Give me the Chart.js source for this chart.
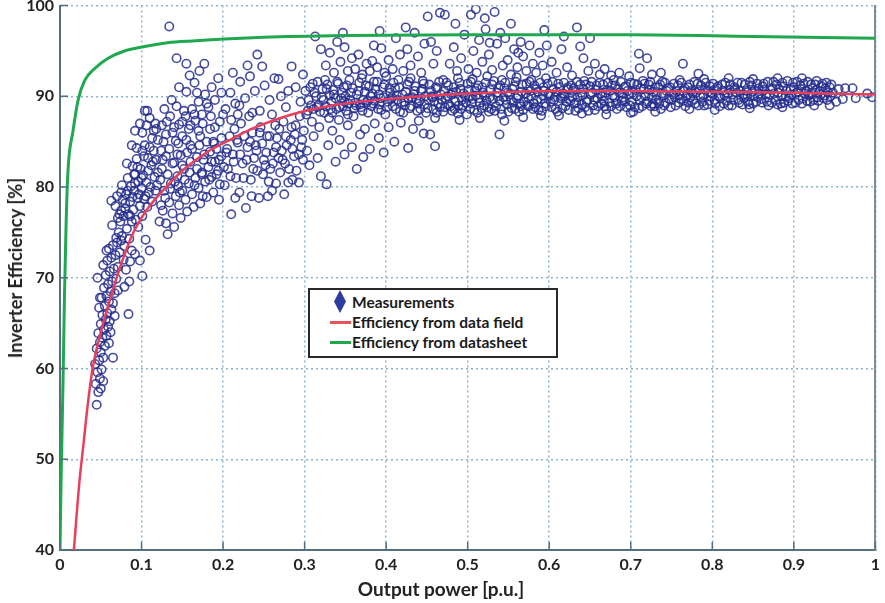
<!DOCTYPE html>
<html>
<head>
<meta charset="utf-8">
<script src="https://cdn.jsdelivr.net/npm/chart.js@4.4.1/dist/chart.umd.min.js"></script>
<style>
  body { margin: 0; background: #fff; }
  #wrap { position: relative; width: 885px; height: 603px; overflow: hidden; }
  #chart { position: absolute; left: 0; top: -10px; }
  #legend {
    position: absolute; left: 308px; top: 288px; width: 246px; height: 66px;
    border: 2px solid #2a2a2a; background: #fff;
    font: bold 15.5px Lato, "Liberation Sans", sans-serif; color: #1a1a1a;
  }
  .item { position: absolute; left: 20px; height: 20px; line-height: 20px; white-space: nowrap; }
  .item span { position: absolute; left: 22px; }
  .dia { position: absolute; left: 4px; top: -2px; width: 12px; height: 23px; background: #2d3a9e;
         clip-path: polygon(50% 0, 100% 50%, 50% 100%, 0 50%); }
  .ln { position: absolute; left: 0; top: 9px; width: 21px; height: 3px; }
  .axis-title { position: absolute; font: bold 19px Lato, "Liberation Sans", sans-serif; color: #222; white-space: nowrap; }
  #xtitle { left: 441px; top: 588px; transform: translate(-50%, -50%); }
  #ytitle { left: 15px; top: 268px; font-size: 18.5px; transform: translate(-50%, -50%) rotate(-90deg); }
</style>
</head>
<body>
<div id="wrap">
  <canvas id="chart" width="885" height="613"></canvas>
  <div id="xtitle" class="axis-title">Output power [p.u.]</div>
  <div id="ytitle" class="axis-title">Inverter Efficiency [%]</div>
  <div id="legend">
    <div class="item" style="top:2px"><div class="dia"></div><span>Measurements</span></div>
    <div class="item" style="top:22px"><div class="ln" style="background:#e8505a"></div><span>Efficiency from data field</span></div>
    <div class="item" style="top:42px"><div class="ln" style="background:#1fa84f"></div><span>Efficiency from datasheet</span></div>
  </div>
</div>
<script>
const xTicks = [0, 0.1, 0.2, 0.3, 0.4, 0.5, 0.6, 0.7, 0.8, 0.9, 1];
const xTickLabels = ['0', '0.1', '0.2', '0.3', '0.4', '0.5', '0.6', '0.7', '0.8', '0.9', '1'];
const yTicks = [40, 50, 60, 70, 80, 90, 100];
const yTickLabels = ['40', '50', '60', '70', '80', '90', '100'];

// datasheet curve (green)
const sheetX = [0, 0.0012, 0.0025, 0.0037, 0.0055, 0.0075, 0.0098, 0.016, 0.022, 0.03, 0.043, 0.059, 0.079, 0.099, 0.132, 0.162, 0.25, 0.35, 0.5, 0.7, 0.85, 1];
const sheetY = [40, 47, 53, 58.5, 68, 76, 81.8, 86.2, 89.5, 91.7, 93.1, 94.2, 95, 95.4, 95.9, 96.1, 96.5, 96.7, 96.8, 96.8, 96.6, 96.4];

// fitted curve from field data (red)
const fieldX = [0.017, 0.024, 0.028, 0.034, 0.04, 0.05, 0.061, 0.075, 0.089, 0.105, 0.122, 0.15, 0.183, 0.204, 0.24, 0.284, 0.341, 0.415, 0.5, 0.6, 0.7, 0.8, 0.9, 1];
const fieldY = [40, 47.7, 51, 56, 60, 64, 67.5, 71.5, 74.8, 77.3, 79.2, 81.8, 84, 85, 86.6, 88, 89.1, 89.8, 90.3, 90.6, 90.6, 90.5, 90.4, 90.2];

// measured points [p.u., %]
const measA = [
  [0.045,56.0],[0.047,57.4],[0.044,58.3],[0.049,58.9],[0.046,59.6],[0.051,59.9],[0.043,60.5],[0.048,60.9],[0.053,61.2],[0.050,61.8],
  [0.045,62.2],[0.055,62.5],[0.049,62.9],[0.052,63.4],[0.057,63.6],[0.047,63.9],[0.054,64.3],[0.059,64.6],[0.050,64.9],[0.056,65.4],
  [0.061,65.2],[0.052,65.9],[0.058,66.1],[0.063,66.5],[0.048,66.7],[0.055,66.9],[0.060,67.4],[0.065,67.2],[0.051,67.8],[0.057,68.0],
  [0.062,68.5],[0.067,68.3],[0.054,68.9],[0.059,69.3],[0.064,69.6],[0.069,69.9],[0.046,70.0],[0.056,70.3],[0.061,70.7],[0.066,71.0],
  [0.071,71.2],[0.053,71.4],[0.058,71.9],[0.063,72.2],[0.068,72.5],[0.073,72.8],[0.060,73.2],[0.065,73.6],[0.070,73.9],[0.075,74.1],
  [0.084,66.0],[0.065,61.2],[0.060,62.8],[0.049,67.8],[0.057,73.0],[0.062,64.0],[0.067,65.8],[0.071,68.6],[0.050,57.8],[0.053,58.6]
];
const measB = [
  [0.072,75.0],[0.076,74.6],[0.079,73.5],[0.074,76.2],[0.078,76.8],[0.082,75.4],[0.085,74.3],[0.080,77.6],[0.084,77.0],[0.088,76.2],
  [0.063,78.5],[0.068,77.9],[0.073,77.0],[0.077,78.6],[0.081,79.2],[0.086,78.4],[0.090,77.5],[0.093,76.4],[0.087,80.1],[0.091,79.6],
  [0.095,78.8],[0.098,77.9],[0.083,81.0],[0.092,81.4],[0.096,80.6],[0.100,79.9],[0.103,78.7],[0.089,82.3],[0.094,83.1],[0.099,82.0],
  [0.102,81.3],[0.106,80.5],[0.109,79.4],[0.094,84.3],[0.091,81.4],[0.098,87.0],[0.110,87.6],[0.113,85.4],[0.104,84.6],[0.108,83.2],
  [0.112,82.4],[0.116,81.1],[0.119,80.2],[0.101,86.0],[0.106,86.8],[0.115,84.0],[0.118,83.0],[0.092,72.6],[0.086,71.8],[0.081,70.9],
  [0.078,72.0],[0.096,75.6],[0.101,76.8],[0.107,77.8],[0.113,78.4],[0.085,69.6],[0.079,69.0],[0.088,73.0],[0.117,87.0],[0.104,88.4],
  [0.101,70.2],[0.098,71.9],[0.110,73.0],[0.105,74.2]
];
const measC = [
  [0.122,76.2],[0.126,77.4],[0.130,76.0],[0.134,78.3],[0.138,77.1],[0.142,79.0],[0.146,78.0],[0.150,79.6],[0.154,78.6],[0.158,80.4],
  [0.162,79.2],[0.166,81.0],[0.170,79.9],[0.174,81.6],[0.178,80.6],[0.182,82.2],[0.186,81.1],[0.190,82.8],[0.194,81.8],[0.198,83.4],
  [0.128,79.6],[0.136,80.4],[0.144,81.2],[0.152,82.0],[0.160,82.8],[0.168,83.3],[0.176,83.0],[0.184,83.9],[0.192,84.2],[0.132,74.8],
  [0.140,75.6],[0.148,76.6],[0.156,77.3],[0.164,77.8],[0.172,78.2],[0.180,78.9],[0.188,79.4],[0.196,80.3],[0.124,78.0],[0.145,80.1],
  [0.125,82.0],[0.130,83.4],[0.127,85.0],[0.134,84.2],[0.138,86.0],[0.142,85.1],[0.131,87.2],[0.146,86.9],[0.150,85.6],[0.154,87.8],
  [0.158,86.4],[0.162,88.6],[0.166,87.3],[0.143,88.9],[0.137,89.6],[0.170,89.4],[0.174,88.0],[0.178,90.2],[0.182,88.8],[0.186,91.0],
  [0.190,89.6],[0.194,92.0],[0.198,90.4],[0.155,90.5],[0.159,92.3],[0.165,91.5],[0.171,92.8],[0.177,93.6],[0.143,94.2],[0.155,93.6],
  [0.134,97.7],[0.148,83.5],[0.160,84.6],[0.172,85.6],[0.184,86.4],[0.196,87.2],[0.188,85.0],[0.124,84.0],[0.118,86.4],[0.140,82.7]
];
const measD = [
  [0.202,80.2],[0.206,82.0],[0.210,77.0],[0.212,83.6],[0.216,81.0],[0.220,79.4],[0.224,82.6],[0.228,77.7],[0.230,84.4],[0.234,80.8],
  [0.238,83.2],[0.242,81.8],[0.244,78.8],[0.248,84.8],[0.252,82.4],[0.256,80.6],[0.260,79.6],[0.262,83.8],[0.266,85.4],[0.270,81.6],
  [0.272,84.0],[0.276,82.6],[0.280,80.5],[0.283,85.2],[0.287,83.4],[0.290,81.8],[0.293,80.5],[0.296,84.4],[0.299,86.2],[0.218,84.9],
  [0.226,85.6],[0.236,86.0],[0.246,86.6],[0.254,85.6],[0.264,86.8],[0.274,87.2],[0.284,86.6],[0.294,87.8],[0.208,85.6],[0.214,86.4],
  [0.222,87.0],[0.232,87.8],[0.240,84.6],[0.250,83.0],[0.258,82.0],[0.268,83.2],[0.278,84.6],[0.288,85.8],[0.298,83.0],[0.204,83.8],
  [0.203,88.6],[0.209,90.4],[0.215,89.2],[0.221,91.6],[0.227,89.8],[0.233,92.2],[0.239,90.6],[0.245,88.4],[0.248,93.3],[0.251,91.2],
  [0.257,89.6],[0.263,92.0],[0.268,91.9],[0.271,90.0],[0.277,88.8],[0.284,93.3],[0.289,91.0],[0.295,89.4],[0.212,92.6],[0.236,88.2],
  [0.260,88.0],[0.280,90.6],[0.298,92.4],[0.218,88.0],[0.242,94.6],[0.230,93.4]
];
const measLowDense = [
  [0.064,75.8],[0.069,74.4],[0.071,76.6],[0.075,77.4],[0.070,79.0],[0.076,80.2],[0.080,78.2],[0.083,79.6],[0.086,76.8],[0.089,78.9],
  [0.092,80.4],[0.095,82.2],[0.097,79.2],[0.100,81.0],[0.103,83.4],[0.105,79.0],[0.108,81.8],[0.111,80.0],[0.114,82.8],[0.117,79.6],
  [0.120,81.6],[0.123,80.8],[0.126,83.0],[0.129,78.8],[0.132,81.4],[0.135,79.8],[0.138,82.6],[0.141,80.6],[0.144,83.6],[0.147,79.4],
  [0.150,82.4],[0.153,80.8],[0.156,83.8],[0.159,81.6],[0.162,84.2],[0.165,80.2],[0.168,82.0],[0.171,84.6],[0.174,81.4],[0.177,83.6],
  [0.180,85.0],[0.183,80.8],[0.186,82.8],[0.189,84.8],[0.192,81.4],[0.195,83.0],[0.198,85.4],[0.201,82.2],[0.205,84.2],[0.209,81.2],
  [0.213,82.8],[0.217,85.2],[0.221,83.6],[0.225,81.0],[0.229,83.0],[0.233,85.0],[0.237,82.0],[0.241,84.0],[0.245,86.0],[0.249,81.4],
  [0.253,83.8],[0.257,85.6],[0.261,82.6],[0.265,84.4],[0.269,86.4],[0.273,83.0],[0.277,85.6],[0.281,82.0],[0.285,84.2],[0.289,86.8],
  [0.293,83.6],[0.297,85.2],[0.255,79.0],[0.265,80.4],[0.275,79.2],[0.285,80.8],[0.235,79.0],[0.215,78.8],[0.195,78.6],[0.175,79.0],
  [0.110,84.4],[0.115,86.2],[0.120,85.2],[0.125,86.8],[0.130,85.8],[0.135,87.8],[0.140,86.6],[0.145,84.8],[0.150,87.2],[0.155,85.2],
  [0.160,86.8],[0.165,88.0],[0.170,86.2],[0.175,87.0],[0.180,89.2],[0.185,87.8],[0.190,86.6],[0.200,88.0],[0.210,87.4],[0.220,89.0],
  [0.075,79.4],[0.082,82.6],[0.088,84.6],[0.101,84.0],[0.092,86.2],[0.107,88.4],[0.128,88.6],[0.146,91.0],[0.152,88.4],[0.168,90.4]
];
const measE = [
  [0.302,88.0],[0.305,89.6],[0.309,87.2],[0.312,90.4],[0.315,88.8],[0.318,86.6],[0.321,89.9],[0.324,88.2],[0.327,90.8],[0.330,87.6],
  [0.333,89.4],[0.336,90.2],[0.339,88.6],[0.342,87.4],[0.345,89.8],[0.348,91.0],[0.351,88.4],[0.354,89.2],[0.357,90.4],[0.360,87.8],
  [0.363,89.0],[0.366,90.6],[0.369,88.8],[0.372,89.6],[0.375,91.2],[0.378,88.2],[0.381,90.0],[0.384,89.2],[0.387,90.8],[0.390,88.6],
  [0.393,89.8],[0.396,91.0],[0.399,88.0],[0.402,89.4],[0.405,90.4],[0.408,88.9],[0.411,90.9],[0.414,89.6],[0.417,88.3],[0.420,90.2],
  [0.423,89.0],[0.426,91.3],[0.429,88.7],[0.432,89.9],[0.435,90.6],[0.438,88.4],[0.441,89.5],[0.444,90.8],[0.447,89.1],[0.449,88.2],
  [0.310,91.4],[0.325,91.8],[0.340,91.6],[0.355,91.8],[0.370,92.0],[0.385,91.6],[0.400,92.2],[0.415,91.8],[0.430,92.0],[0.445,91.7],
  [0.317,89.0],[0.332,88.6],[0.347,88.9],[0.362,89.3],[0.377,89.5],[0.392,89.1],[0.407,89.9],[0.422,89.4],[0.437,89.7],[0.350,90.0],
  [0.303,84.0],[0.306,82.4],[0.311,85.6],[0.316,83.2],[0.320,81.2],[0.327,80.3],[0.329,84.6],[0.334,86.2],[0.338,82.8],[0.343,85.2],
  [0.349,83.6],[0.353,86.8],[0.358,84.4],[0.364,82.0],[0.368,85.8],[0.374,86.4],[0.380,84.2],[0.386,87.0],[0.391,85.4],[0.397,83.8],
  [0.403,86.6],[0.410,85.0],[0.418,87.1],[0.427,84.3],[0.433,86.4],[0.440,87.3],[0.446,85.9],[0.454,85.8],[0.460,84.5],[0.372,83.3],
  [0.313,96.6],[0.320,95.2],[0.326,93.4],[0.331,94.8],[0.336,92.6],[0.340,96.0],[0.344,93.8],[0.349,95.4],[0.353,92.8],[0.358,94.2],
  [0.362,93.0],[0.366,94.6],[0.371,92.4],[0.376,93.6],[0.380,92.8],[0.385,95.6],[0.389,93.2],[0.394,95.3],[0.398,92.6],[0.403,94.0],
  [0.408,93.0],[0.412,96.4],[0.417,94.6],[0.421,92.8],[0.426,95.2],[0.430,93.4],[0.435,97.0],[0.439,94.4],[0.443,92.6],[0.447,95.8],
  [0.451,98.8],[0.455,96.0],[0.458,93.6],[0.462,95.0],[0.466,99.2],[0.472,99.0],[0.347,97.0],[0.392,97.2],[0.424,97.6],[0.383,93.9]
];
const measF = [
  [0.452,89.6],[0.455,90.6],[0.458,88.6],[0.461,91.0],[0.464,89.2],[0.467,90.2],[0.470,88.3],[0.473,89.8],[0.476,91.2],[0.479,88.9],
  [0.482,90.4],[0.485,89.4],[0.488,88.1],[0.491,90.8],[0.494,89.0],[0.497,90.0],[0.500,91.4],[0.503,88.6],[0.506,89.7],[0.509,90.6],
  [0.512,88.2],[0.515,89.3],[0.518,91.0],[0.521,90.1],[0.524,88.8],[0.527,89.9],[0.530,91.3],[0.533,88.4],[0.536,90.4],[0.539,89.5],
  [0.542,88.0],[0.545,90.9],[0.548,89.1],[0.551,90.2],[0.554,88.7],[0.557,91.1],[0.560,89.8],[0.563,88.3],[0.566,90.5],[0.569,89.4],
  [0.572,91.4],[0.575,88.9],[0.578,90.0],[0.581,89.2],[0.584,90.8],[0.587,88.5],[0.590,89.7],[0.593,91.0],[0.596,88.9],[0.599,90.3],
  [0.457,89.9],[0.466,88.8],[0.475,90.0],[0.484,88.6],[0.493,89.6],[0.502,89.9],[0.511,90.9],[0.520,89.0],[0.529,88.6],[0.538,90.9],
  [0.547,89.6],[0.556,89.3],[0.565,88.9],[0.574,89.9],[0.583,88.8],[0.592,90.1],[0.460,87.6],[0.490,87.4],[0.515,87.6],[0.545,87.3],
  [0.470,91.8],[0.488,92.0],[0.506,91.9],[0.524,92.2],[0.542,91.8],[0.560,92.1],[0.578,91.8],[0.596,92.0],[0.568,87.7],[0.590,87.9],
  [0.478,93.6],[0.483,95.4],[0.487,92.8],[0.492,94.2],[0.496,96.8],[0.501,93.0],[0.504,99.0],[0.507,95.0],[0.511,92.6],[0.514,96.2],
  [0.518,93.8],[0.522,97.4],[0.526,94.6],[0.530,92.9],[0.533,99.3],[0.536,95.8],[0.540,97.0],[0.543,93.4],[0.546,96.4],[0.549,94.0],
  [0.553,92.4],[0.557,95.2],[0.561,93.2],[0.565,96.0],[0.568,94.4],[0.572,92.8],[0.576,95.6],[0.580,93.6],[0.584,92.6],[0.588,94.8],
  [0.592,93.4],[0.594,97.3],[0.597,95.6],[0.521,98.6],[0.510,99.6],[0.485,98.0],[0.553,98.0],[0.527,95.9],[0.562,94.8],[0.539,85.8]
];
const measG = [
  [0.602,89.4],[0.605,90.8],[0.608,88.6],[0.611,91.4],[0.614,89.8],[0.617,90.3],[0.620,88.9],[0.623,91.0],[0.626,89.5],[0.629,90.6],
  [0.632,88.4],[0.635,89.9],[0.638,91.3],[0.641,90.1],[0.644,88.8],[0.647,89.6],[0.650,91.1],[0.653,90.4],[0.656,88.5],[0.659,89.8],
  [0.662,91.5],[0.665,90.0],[0.668,88.9],[0.671,90.7],[0.674,89.3],[0.677,91.2],[0.680,89.9],[0.683,88.6],[0.686,90.4],[0.689,89.5],
  [0.692,91.0],[0.695,88.8],[0.698,90.2],[0.701,89.4],[0.704,91.4],[0.707,90.0],[0.710,88.7],[0.713,89.9],[0.716,90.8],[0.719,89.2],
  [0.722,91.3],[0.725,88.9],[0.728,90.5],[0.731,89.6],[0.734,91.0],[0.737,88.6],[0.740,90.1],[0.743,89.3],[0.746,90.9],[0.749,88.8],
  [0.607,89.9],[0.619,90.0],[0.631,89.2],[0.643,91.7],[0.655,89.6],[0.667,89.5],[0.679,91.8],[0.691,89.9],[0.703,88.3],[0.715,91.7],
  [0.727,89.2],[0.739,91.6],[0.612,87.9],[0.640,88.1],[0.670,88.0],[0.700,88.2],[0.730,88.3],
  [0.603,93.8],[0.609,92.6],[0.615,95.2],[0.622,93.2],[0.628,92.3],[0.638,95.5],[0.642,94.2],[0.648,92.8],[0.656,93.6],[0.662,92.4],
  [0.668,93.0],[0.676,92.3],[0.686,92.6],[0.698,92.2],[0.710,94.7],[0.711,93.1],[0.720,94.2],[0.726,92.4],[0.737,92.6],[0.764,93.6],
  [0.783,92.5],[0.618,96.6],[0.634,97.6],[0.650,96.4]
];
const measH = [
  [0.752,90.2],[0.755,89.0],[0.758,91.2],[0.761,89.7],[0.764,90.6],[0.767,88.9],[0.770,91.0],[0.773,89.9],[0.776,90.3],[0.779,89.2],
  [0.782,91.4],[0.785,90.0],[0.788,89.4],[0.791,90.8],[0.794,89.1],[0.797,91.1],[0.800,90.3],[0.803,89.6],[0.806,90.9],[0.809,88.9],
  [0.812,91.3],[0.815,90.1],[0.818,89.5],[0.821,90.7],[0.824,89.0],[0.827,91.0],[0.830,90.4],[0.833,89.3],[0.836,91.5],[0.839,89.8],
  [0.842,90.6],[0.845,89.1],[0.848,91.2],[0.851,90.0],[0.854,89.4],[0.857,90.9],[0.860,89.7],[0.863,91.4],[0.866,90.2],[0.869,89.0],
  [0.872,90.7],[0.875,91.6],[0.878,89.6],[0.881,90.4],[0.884,89.2],[0.887,91.1],[0.890,90.0],[0.893,89.5],[0.896,90.8],[0.899,91.5],
  [0.902,89.3],[0.905,90.5],[0.908,91.2],[0.911,89.8],[0.914,90.3],[0.917,91.6],[0.920,89.4],[0.923,90.9],[0.926,91.3],[0.929,89.9],
  [0.932,90.6],[0.935,91.4],[0.938,90.1],[0.941,89.6],[0.944,91.0],[0.760,91.8],[0.790,91.9],[0.820,92.0],[0.850,91.9],[0.880,92.0],
  [0.910,92.0],[0.772,88.6],[0.803,88.5],[0.846,88.7],[0.886,88.8],[0.925,89.0],
  [0.948,90.4],[0.955,90.8],[0.963,90.9],[0.972,90.9],[0.960,89.7],[0.976,89.8],[0.952,89.4],[0.990,90.3],[0.996,89.9],[0.944,89.0]
];
const measBandMid = [
  [0.301,90.6],[0.304,88.4],[0.307,91.0],[0.308,89.0],[0.311,88.6],[0.314,90.0],[0.316,91.6],[0.319,88.3],[0.322,90.8],[0.323,89.6],
  [0.326,88.9],[0.328,91.3],[0.331,90.1],[0.334,88.2],[0.335,90.7],[0.338,89.8],[0.341,91.4],[0.343,88.8],[0.346,90.4],[0.349,89.4],
  [0.352,91.2],[0.353,88.0],[0.356,89.6],[0.359,90.9],[0.361,88.7],[0.364,90.2],[0.367,91.5],[0.368,89.1],[0.371,88.4],[0.374,90.5],
  [0.376,89.3],[0.379,91.1],[0.382,88.9],[0.383,90.3],[0.386,89.5],[0.389,91.6],[0.391,90.2],[0.394,88.5],[0.397,89.9],[0.398,91.3],
  [0.401,88.8],[0.404,90.9],[0.406,89.7],[0.409,91.5],[0.412,88.6],[0.413,90.1],[0.416,91.0],[0.419,89.3],[0.421,88.2],[0.424,90.5],
  [0.427,89.8],[0.428,91.6],[0.431,88.9],[0.434,90.2],[0.436,91.1],[0.439,89.2],[0.442,88.6],[0.443,90.6],[0.446,91.4],[0.448,90.0],
  [0.451,88.7],[0.453,91.3],[0.456,90.0],[0.459,89.4],[0.462,88.2],[0.463,90.9],[0.465,91.6],[0.468,89.6],[0.471,90.6],[0.472,88.8],
  [0.474,91.5],[0.477,89.1],[0.480,90.2],[0.481,88.4],[0.483,91.0],[0.486,90.5],[0.489,89.0],[0.490,91.5],[0.492,88.6],[0.495,90.3],
  [0.498,89.3],[0.499,88.0],[0.501,90.7],[0.504,91.6],[0.505,89.2],[0.508,88.5],[0.510,90.1],[0.513,91.2],[0.514,89.8],[0.517,88.7],
  [0.519,90.4],[0.522,91.5],[0.523,89.5],[0.526,88.3],[0.528,90.7],[0.531,89.7],[0.532,91.7],[0.535,88.9],[0.537,90.0],[0.540,91.2],
  [0.541,88.6],[0.544,89.9],[0.546,91.5],[0.549,90.4],[0.550,88.3],[0.553,89.6],[0.555,90.8],[0.558,88.6],[0.559,91.6],[0.562,90.1],
  [0.564,89.2],[0.567,91.3],[0.568,88.5],[0.571,90.3],[0.573,89.0],[0.576,91.6],[0.577,90.6],[0.580,88.6],[0.582,91.2],[0.585,89.6],
  [0.586,90.5],[0.589,91.5],[0.591,88.4],[0.594,90.6],[0.595,89.2],[0.598,91.4]
];
const measBandHigh = [
  [0.601,90.1],[0.603,88.8],[0.604,91.6],[0.606,89.6],[0.609,90.5],[0.610,88.3],[0.613,91.0],[0.615,90.0],[0.616,88.7],[0.618,91.5],
  [0.621,89.4],[0.622,90.8],[0.624,88.5],[0.627,91.2],[0.628,89.9],[0.630,90.9],[0.633,89.3],[0.634,91.6],[0.636,88.7],[0.639,90.4],
  [0.640,89.1],[0.642,90.8],[0.645,91.3],[0.646,89.4],[0.648,88.4],[0.651,90.2],[0.652,91.6],[0.654,89.0],[0.657,90.7],[0.658,91.2],
  [0.660,88.9],[0.663,90.3],[0.664,89.2],[0.666,91.3],[0.669,90.4],[0.670,88.6],[0.672,91.5],[0.675,90.6],[0.676,88.9],[0.678,90.1],
  [0.681,91.2],[0.682,89.2],[0.684,90.8],[0.687,88.9],[0.688,91.6],[0.690,90.3],[0.693,89.4],[0.694,91.1],[0.696,90.6],[0.699,89.0],
  [0.700,91.5],[0.702,90.4],[0.705,88.8],[0.706,90.7],[0.708,91.3],[0.711,89.6],[0.712,90.9],[0.714,88.9],[0.717,91.4],[0.718,90.0],
  [0.720,89.4],[0.723,90.7],[0.724,91.6],[0.726,89.9],[0.729,88.9],[0.730,91.0],[0.732,90.2],[0.735,89.2],[0.736,91.3],[0.738,90.3],
  [0.741,89.0],[0.742,91.5],[0.744,90.6],[0.747,89.7],[0.748,91.0],
  [0.750,89.6],[0.753,91.4],[0.754,89.9],[0.756,90.6],[0.759,89.3],[0.760,90.1],[0.762,91.5],[0.765,89.5],[0.766,90.9],[0.768,90.0],
  [0.771,89.3],[0.772,91.3],[0.774,90.6],[0.777,89.6],[0.778,91.6],[0.780,90.4],[0.783,89.0],[0.784,90.7],[0.786,91.2],[0.789,90.1],
  [0.790,89.0],[0.792,91.5],[0.795,90.5],[0.796,89.5],[0.798,90.0],[0.801,91.4],[0.802,90.7],[0.804,89.2],[0.807,91.1],[0.808,90.0],
  [0.810,89.8],[0.813,90.6],[0.814,89.2],[0.816,91.5],[0.819,90.3],[0.820,89.0],[0.822,91.3],[0.825,90.2],[0.826,89.6],[0.828,90.8],
  [0.831,91.5],[0.832,89.6],[0.834,90.6],[0.837,89.1],[0.838,90.2],[0.840,91.3],[0.843,90.1],[0.844,89.4],[0.846,91.6],[0.849,90.5],
  [0.850,89.2],[0.852,90.7],[0.855,91.4],[0.856,89.9],[0.858,90.3],[0.861,89.3],[0.862,91.1],[0.864,90.7],[0.867,89.4],[0.868,91.6],
  [0.870,90.2],[0.873,89.3],[0.874,90.9],[0.876,90.3],[0.879,91.3],[0.880,89.1],[0.882,90.8],[0.885,90.0],[0.886,91.5],[0.888,89.3],
  [0.891,90.6],[0.892,91.7],[0.894,89.8],[0.897,90.2],[0.898,89.2],[0.900,91.0],[0.903,90.4],[0.904,91.6],[0.906,89.6],[0.909,90.8],
  [0.910,89.2],[0.912,91.4],[0.915,90.6],[0.916,89.5],[0.918,90.1],[0.921,91.3],[0.922,90.3],[0.924,89.6],[0.927,90.7],[0.928,91.7],
  [0.930,89.5],[0.933,90.2],[0.934,91.1],[0.936,89.8],[0.939,90.9],[0.940,91.5],[0.942,90.4],[0.945,90.0],[0.946,91.3]
];
const measurements = [...measA, ...measB, ...measC, ...measD, ...measLowDense, ...measE, ...measF, ...measG, ...measH, ...measBandMid, ...measBandHigh];

const gridColor = '#8db4cf';
const axisColor = '#52707f';
const fontFamily = 'Lato, "Liberation Sans", sans-serif';
const tickFont = { family: fontFamily, size: 16, weight: 'bold' };

// short inward tick marks like the original plotting tool
const innerTicks = {
    id: 'innerTicks',
    afterDatasetsDraw(chart) {
        const { ctx, chartArea: a, scales: { x, y } } = chart;
        ctx.save();
        ctx.strokeStyle = axisColor;
        ctx.lineWidth = 1.5;
        ctx.beginPath();
        xTicks.forEach(v => { const px = x.getPixelForValue(v); ctx.moveTo(px, a.bottom); ctx.lineTo(px, a.bottom - 8); });
        yTicks.forEach(v => { const py = y.getPixelForValue(v); ctx.moveTo(a.left, py); ctx.lineTo(a.left + 8, py); });
        ctx.stroke();
        ctx.restore();
    }
};

const ctx = document.getElementById('chart').getContext('2d');
new Chart(ctx, {
    type: 'scatter',
    plugins: [innerTicks],
    data: {
        datasets: [
            {
                label: 'Efficiency from data field',
                type: 'line',
                data: fieldX.map((x, i) => ({ x, y: fieldY[i] })),
                borderColor: '#e8405a',
                borderWidth: 2.5,
                pointRadius: 0,
                fill: false,
                cubicInterpolationMode: 'monotone',
                order: 0
            },
            {
                label: 'Efficiency from datasheet',
                type: 'line',
                data: sheetX.map((x, i) => ({ x, y: sheetY[i] })),
                borderColor: '#1fa84f',
                borderWidth: 3,
                pointRadius: 0,
                fill: false,
                cubicInterpolationMode: 'monotone',
                order: 1
            },
            {
                label: 'Measurements',
                data: measurements.map(([x, y]) => ({ x, y })),
                pointStyle: 'circle',
                pointRadius: 4.2,
                borderWidth: 1.6,
                borderColor: 'rgba(38, 46, 142, 0.85)',
                backgroundColor: 'rgba(0,0,0,0)',
                order: 2
            }
        ]
    },
    options: {
        responsive: false,
        animation: false,
        layout: { padding: { top: 0, right: 5, left: 0, bottom: 0 } },
        plugins: { legend: { display: false }, tooltip: { enabled: false } },
        scales: {
            x: {
                type: 'linear', min: 0, max: 1,
                afterBuildTicks: s => { s.ticks = xTicks.map(v => ({ value: v })); },
                afterFit: s => { s.height = 53; },
                ticks: { font: tickFont, color: '#222', padding: 5, maxRotation: 0, callback: (v, i) => xTickLabels[i] },
                grid: { color: gridColor, lineWidth: 1.5, drawTicks: false },
                border: { color: axisColor, width: 2, dash: [2, 3] }
            },
            y: {
                min: 40, max: 100,
                afterBuildTicks: s => { s.ticks = yTicks.map(v => ({ value: v })); },
                afterFit: s => { s.width = 60; },
                ticks: { font: tickFont, color: '#222', padding: 6, callback: (v, i) => yTickLabels[i] },
                grid: { color: gridColor, lineWidth: 1.5, drawTicks: false },
                border: { color: axisColor, width: 2, dash: [2, 3] }
            },
            y2: {
                position: 'right', min: 40, max: 100,
                ticks: { display: false },
                grid: { display: false, drawTicks: false },
                border: { color: '#7d8c96', width: 2 },
                afterFit: s => { s.width = 0; }
            }
        }
    }
});
</script>
</body>
</html>
